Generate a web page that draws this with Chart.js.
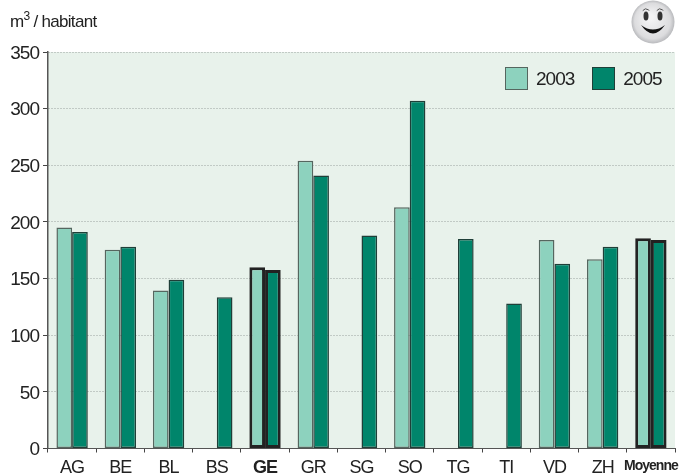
<!DOCTYPE html>
<html>
<head>
<meta charset="utf-8">
<script src="https://cdn.jsdelivr.net/npm/chart.js@4"></script>
<style>
    body { margin: 0; background: #fff; }
    .chart_box { position: relative; width: 680px; height: 476px; }
    .unit_label { position: absolute; left: 10px; top: 12px; font: 17px "Liberation Sans", sans-serif; letter-spacing: -0.7px; color: #222; }
    .unit_label sup { font-size: 12px; line-height: 0; }
    .legend { position: absolute; left: 505px; top: 67px; display: flex; font: 19px/23px "Liberation Sans", sans-serif; letter-spacing: -1px; color: #222; }
    .legend_item { display: flex; margin-right: 18px; }
    .legend_box { box-sizing: border-box; width: 23px; height: 23px; margin-right: 8px; border: 1.5px solid; }
</style>
</head>
<body>
<div class="chart_box">
    <canvas id="chart" width="680" height="476"></canvas>
    <div class="unit_label">m<sup>3</sup> / habitant</div>
    <div class="legend"></div>
</div>
<script>
const cantons = ["AG", "BE", "BL", "BS", "GE", "GR", "SG", "SO", "TG", "TI", "VD", "ZH", "Moyenne"];
const values2003 = [195, 175.5, 139.5, null, 160, 254, null, 213, null, null, 184, 167, 185.5];
const values2005 = [191, 178, 149, 133.5, 157.5, 241, 188, 307, 185, 128, 163, 178, 184];
const yTicks = [0, 50, 100, 150, 200, 250, 300, 350];
const boldCantons = ["GE", "Moyenne"];

const FONT = '"Liberation Sans", sans-serif';

let isBold = (ctx) => boldCantons.includes(cantons[ctx.index]);

// green plot background and the smiley top right
const decor = {
    id: "decor",
    beforeDraw(chart) {
        let a = chart.chartArea;
        let c = chart.ctx;
        c.letterSpacing = "-1px"; // no narrow font installed, squeeze the axis labels
        c.save();
        c.fillStyle = "#e8f2eb";
        c.fillRect(a.left, a.top, a.right - a.left, a.bottom - a.top);

        let x = 653, y = 22, r = 21.5;
        let g = c.createRadialGradient(x - 3, y - 5, 3, x, y, r);
        g.addColorStop(0, "#f3f3f4");
        g.addColorStop(0.8, "#dcdcde");
        g.addColorStop(1, "#b9babd");
        c.fillStyle = g;
        c.beginPath();
        c.arc(x, y, r, 0, Math.PI * 2);
        c.fill();

        c.fillStyle = "#333";
        c.beginPath();
        c.ellipse(x - 7, y - 6, 2.5, 4.5, 0, 0, Math.PI * 2);
        c.ellipse(x + 7, y - 6, 2.5, 4.5, 0, 0, Math.PI * 2);
        c.fill();

        c.fillStyle = "#111";
        c.beginPath();
        c.moveTo(x - 12, y + 3);
        c.quadraticCurveTo(x, y + 20, x + 12, y + 3);
        c.quadraticCurveTo(x, y + 12, x - 12, y + 3);
        c.fill();

        c.strokeStyle = "#555";
        c.lineWidth = 1;
        c.beginPath();
        c.arc(x - 7, y - 9, 4, Math.PI * 1.2, Math.PI * 1.8);
        c.stroke();
        c.beginPath();
        c.arc(x + 7, y - 9, 4, Math.PI * 1.2, Math.PI * 1.8);
        c.stroke();
        c.restore();
    }
};

const chart = new Chart(document.getElementById("chart"), {
    type: "bar",
    data: {
        labels: cantons,
        datasets: [{
            label: "2003",
            data: values2003,
            backgroundColor: "#8dd2be",
            borderColor: (ctx) => isBold(ctx) ? "#222" : "#55665f",
            borderWidth: (ctx) => isBold(ctx) ? 3 : 1.5,
            borderSkipped: false
        }, {
            label: "2005",
            data: values2005,
            backgroundColor: "#00856b",
            borderColor: (ctx) => isBold(ctx) ? "#222" : "#1f3f38",
            borderWidth: (ctx) => isBold(ctx) ? 3 : 1.5,
            borderSkipped: false
        }]
    },
    options: {
        responsive: false,
        animation: false,
        layout: { padding: { top: 52, right: 5, bottom: 0, left: 0 } },
        categoryPercentage: 0.65,
        barPercentage: 1,
        scales: {
            x: {
                afterFit: (s) => { s.height = 27.5; s.paddingLeft = 0; s.paddingRight = 0; },
                grid: { drawOnChartArea: false, tickLength: 4, tickColor: "#444" },
                border: { color: "#555", width: 1 },
                ticks: {
                    autoSkip: false,
                    maxRotation: 0,
                    padding: 5,
                    color: "#222",
                    font: (ctx) => {
                        let label = cantons[ctx.index];
                        if (label === "Moyenne") return { family: FONT, size: 14, weight: "bold" };
                        if (label === "GE") return { family: FONT, size: 18, weight: "bold" };
                        return { family: FONT, size: 18 };
                    }
                }
            },
            y: {
                min: 0,
                max: 350,
                afterFit: (s) => { s.width = 48; s.paddingTop = 0; s.paddingBottom = 0; },
                afterBuildTicks: (s) => { s.ticks = yTicks.map((v) => ({ value: v })); },
                grid: { color: "#9aa39e", tickColor: "#444", tickLength: 5, tickBorderDash: [] },
                border: { color: "#555", width: 1.5, dash: [1, 2] },
                ticks: { padding: 4, labelOffset: 1.5, color: "#222", font: { family: FONT, size: 19 } }
            }
        },
        plugins: {
            tooltip: { enabled: false },
            legend: { display: false }
        }
    },
    plugins: [decor]
});

// html legend sitting over the plot, built from the datasets
let legendBox = document.querySelector(".legend");
chart.data.datasets.forEach((set) => {
    let item = document.createElement("div");
    item.className = "legend_item";
    let swatch = document.createElement("div");
    swatch.className = "legend_box";
    swatch.style.background = set.backgroundColor;
    swatch.style.borderColor = set.label === "2003" ? "#55665f" : "#1f3f38";
    let text = document.createElement("span");
    text.textContent = set.label;
    item.append(swatch, text);
    legendBox.append(item);
});
</script>
</body>
</html>
